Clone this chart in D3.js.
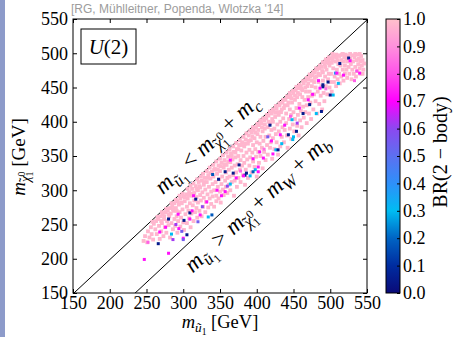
<!DOCTYPE html>
<html><head><meta charset="utf-8">
<script src="https://cdn.jsdelivr.net/npm/d3@7"></script>
<style>body{margin:0;background:#fff;} svg{display:block;}</style>
</head><body>
<svg id="c" width="453" height="337"></svg>
<script>
// ---------------- data ----------------
const xTicks = [150, 200, 250, 300, 350, 400, 450, 500, 550];
const yTicks = [150, 200, 250, 300, 350, 400, 450, 500, 550];
const cbTicks = [0, 0.1, 0.2, 0.3, 0.4, 0.5, 0.6, 0.7, 0.8, 0.9, 1.0];
const cbTickLabels = ["0.0","0.1","0.2","0.3","0.4","0.5","0.6","0.7","0.8","0.9","1.0"];
const cmapStops  = [0, 0.1, 0.2, 0.3, 0.4, 0.5, 0.6, 0.65, 0.7, 0.8, 0.9, 1.0];
const cmapColors = ["#0a0a78","#002ca0","#0064c4","#00bcf2","#2e90fa","#5c70f0","#8c48f0","#c424f8","#ff00ff","#ff52ea","#ff90dc","#ffc0cb"];
const mC = 1.3, mW = 80.4, mB = 4.2;   // GeV
const citation = "[RG, Mühlleitner, Popenda, Wlotzka '14]";
const pinkBR = 0.98;
const pinkPts = [
[246,226],[248,233],[251,224],[252,240],[254,231],[256,246],[257,236],[259,228],[260,251],
[262,243],[263,255],[264,236],[266,258],[267,248],[268,229],[269,262],[270,240],[271,252],[272,265],[273,233],[274,258],[275,246],[276,268],[277,238],[278,255],[279,271],[280,249],[281,262],[282,231],[282,274],
[283,266],[284,252],[285,277],[286,243],[287,270],[288,258],[288,281],[289,248],[290,274],[291,262],[292,284],[292,238],[293,255],[294,279],[295,268],[296,247],[296,288],[297,260],[298,281],[299,272],[300,253],[300,291],[301,242],[302,284],
[303,265],[304,294],[305,276],[305,252],[306,288],[307,270],[308,297],[308,259],[309,281],[310,246],[311,292],[311,266],[312,302],[313,278],[314,255],[315,296],[315,285],[316,268],[317,306],[318,274],[318,290],[319,260],[320,300],[320,282],
[321,312],[322,270],[323,293],[323,304],[324,285],[325,262],[325,314],[326,297],[327,276],[328,308],[328,289],[329,318],[330,268],[330,301],[331,283],[332,312],[333,294],[334,322],[334,275],[335,305],[336,288],[337,317],[338,298],[338,280],[339,327],[340,309],[340,291],
[341,320],[342,276],[342,300],[343,331],[344,312],[345,292],[345,284],[346,324],[347,305],[348,336],[348,288],[349,316],[350,298],[350,328],[351,282],[352,340],[352,309],[353,320],[354,301],[355,333],[355,293],[356,344],[357,314],[358,326],[358,305],[359,337],[360,296],[360,318],
[361,349],[362,330],[362,308],[363,320],[364,341],[364,300],[365,354],[366,312],[366,333],[367,345],[368,322],[369,292],[369,356],[370,336],[370,314],[371,348],[372,326],[373,360],[373,305],[374,338],[375,318],[375,350],[376,366],[377,330],[378,344],[378,312],[379,358],[380,336],[380,370],
[381,322],[382,350],[383,364],[383,340],[384,308],[385,374],[385,330],[386,355],[387,345],[388,368],[388,318],[389,380],[390,336],[390,359],[391,348],[392,373],[393,326],[393,384],[394,355],[395,342],[395,366],[396,388],[397,334],[397,376],[398,360],[399,349],[399,392],[400,370],[400,320],
[401,382],[402,356],[403,395],[403,340],[404,368],[405,378],[405,350],[406,398],[407,362],[408,386],[408,332],[409,372],[410,402],[410,356],[411,390],[412,344],[412,378],[413,405],[414,366],[415,392],[415,352],[416,409],[417,380],[418,398],[418,362],[419,370],[420,412],[420,388],
[421,346],[422,400],[422,376],[423,416],[424,360],[424,390],[425,407],[426,382],[427,419],[427,370],[428,396],[429,352],[430,410],[430,386],[431,424],[432,364],[432,400],[433,414],[434,378],[435,428],[435,392],[436,405],[437,370],[437,420],[438,388],[439,432],[440,398],[440,412],
[441,380],[442,424],[442,362],[443,436],[444,404],[445,390],[445,418],[446,438],[447,375],[447,410],[448,428],[449,396],[450,442],[450,414],[451,386],[452,432],[452,404],[453,446],[454,420],[455,394],[455,436],[456,410],[457,449],[457,380],[458,426],[459,440],[459,402],[460,416],[460,452],
[461,392],[462,436],[462,446],[463,422],[464,456],[464,406],[465,432],[466,414],[466,460],[467,444],[468,398],[468,424],[469,452],[470,436],[470,462],[471,412],[472,444],[473,466],[473,428],[474,404],[475,452],[475,438],[476,468],[477,418],[478,458],[478,440],[479,472],[480,430],[480,450],
[481,466],[482,412],[482,476],[483,444],[484,458],[485,426],[485,478],[486,468],[487,438],[488,480],[488,452],[489,418],[490,472],[490,460],[491,442],[492,484],[492,430],[493,466],[494,452],[495,486],[495,476],[496,440],[497,462],[497,490],[498,470],[499,450],[499,482],[500,492],[500,458],
[501,470],[502,486],[502,444],[503,494],[504,478],[505,458],[505,496],[506,466],[507,488],[508,452],[508,498],[509,476],[510,462],[510,490],[511,484],[512,470],[513,497],[513,456],[514,482],[515,490],[515,466],[516,498],[517,476],[518,460],[518,488],[519,494],[520,470],[520,482],
[521,498],[522,476],[523,488],[523,464],[524,496],[525,480],[526,470],[527,492],[528,484],[529,462],[530,497],[530,476],[531,488],[532,470],[533,494],[534,480],[535,466],[536,490],[537,498],[537,474],[538,484],[539,492],[540,478],[541,488],[541,470],[542,496],[543,482],[544,490],[545,476],[544,470],[546,485],
[258,254],[265,261],[271,268],[277,273],[284,281],[290,286],[295,292],[299,295],[306,302],[310,307],[314,310],[319,316],[324,320],[327,324],[332,328],[336,333],[341,337],[345,342],[350,346],[354,351],[359,355],[363,360],[368,364],[372,369],[377,373],[382,378],[386,383],[391,387],[395,392],[401,397],[405,402],[409,405],[414,410],[418,415],[422,418],[426,423],[431,427],[436,432],[441,437],[445,442],[449,445],[454,451],[458,454],[463,459],[468,464],[472,469],[477,473],[481,478],[486,482],[490,487],[494,491],[498,494],[503,499],
[270,255],[274,262],[280,265],[286,272],[291,270],[297,282],[302,290],[307,293],[313,295],[318,302],[322,306],[328,312],[333,318],[337,325],[342,330],[347,330],[351,335],[356,338],[361,342],[366,350],[371,355],[375,360],[379,366],[384,368],[389,372],[394,378],[398,384],[402,388],[407,392],[411,396],[416,400],[421,404],[425,413],[429,414],[434,418],[438,424],[443,428],[447,434],[452,438],[456,442],[461,448],[466,450],[470,456],[475,460],[479,464],[484,470],[489,474],[493,480],[498,486],[503,490],[508,494],[512,496],[517,499],[522,492],[527,499],[534,499],[540,499]
];
// [m_stop, m_chi, BR(2-body)]
const colPts = [
[247,199,0.72],[252,224,0.82],[266,222,0.05],[268,239,0.72],[280,208,0.72],[284,236,0.3],[286,228,0.62],[300,230,0.72],[305,235,0.05],[300,228,0.55],[294,244,0.72],[276,246,0.72],[280,258,0.05],[290,250,0.62],[301,256,0.05],[309,258,0.72],[320,254,0.55],[334,261,0.3],[339,264,0.18],[323,264,0.72],[309,267,0.05],[293,265,0.72],[312,270,0.72],[326,276,0.6],[317,287,0.05],[314,292,0.72],[332,283,0.72],[298,240,0.55],[346,300,0.72],[352,292,0.72],[348,316,0.05],[364,309,0.3],[357,298,0.72],[360,306,0.6],[368,325,0.05],[372,318,0.72],[378,328,0.82],[386,325,0.05],[384,322,0.05],[357,327,0.05],[398,330,0.3],[402,327,0.72],[364,344,0.72],[376,337,0.05],[340,323,0.18],[382,321,0.72],[391,321,0.3],[395,327,0.18],[402,334,0.72],[409,347,0.72],[395,346,0.72],[404,356,0.72],[410,360,0.85],[422,353,0.72],[426,359,0.3],[429,359,0.05],[434,368,0.3],[420,372,0.72],[415,378,0.55],[432,381,0.72],[443,381,0.05],[449,374,0.3],[450,378,0.3],[454,386,0.05],[418,395,0.05],[438,395,0.72],[455,398,0.62],[448,403,0.3],[446,408,0.82],[463,412,0.05],[481,412,0.3],[488,415,0.05],[458,420,0.72],[472,425,0.05],[470,432,0.72],[476,440,0.72],[504,439,0.3],[500,439,0.05],[490,451,0.05],[486,449,0.72],[490,454,0.05],[497,458,0.05],[511,456,0.3],[484,460,0.72],[494,448,0.85],[518,468,0.72],[507,471,0.4],[509,471,0.72],[540,471,0.72],[536,474,0.8],[533,460,0.82],[513,485,0.05],[525,493,0.05],[527,489,0.72]
];

// ---------------- layout ----------------
const svg = d3.select("#c");
const P = {l:73, r:367, t:19, b:293};
const x = d3.scaleLinear().domain([150,550]).range([P.l,P.r]);
const y = d3.scaleLinear().domain([150,550]).range([P.b,P.t]);
const color = d3.scaleLinear().domain(cmapStops).range(cmapColors).clamp(true);
const serif = "'Liberation Serif','Times New Roman',serif";

// left slide strip
svg.append("rect").attr("x",0).attr("y",0).attr("width",5).attr("height",337).attr("fill","#8d9bca");

// citation
svg.append("text").attr("x",71).attr("y",13).attr("font-family","'Liberation Sans',Arial,sans-serif")
  .attr("font-size",12).attr("fill","#9c9c9c").text(citation);

// clip
svg.append("clipPath").attr("id","clip").append("rect")
  .attr("x",P.l).attr("y",P.t).attr("width",P.r-P.l).attr("height",P.b-P.t);
const plot = svg.append("g").attr("clip-path","url(#clip)");

// kinematic lines
const line = d3.line().x(d=>x(d[0])).y(d=>y(d[1]));
const lineC  = [[100,100-mC],[600,600-mC]];
const lineWb = [[100,100-mW-mB],[650,650-mW-mB]];
plot.append("path").attr("d",line(lineC)).attr("stroke","#000").attr("stroke-width",1).attr("fill","none");
plot.append("path").attr("d",line(lineWb)).attr("stroke","#000").attr("stroke-width",1).attr("fill","none");

// points
const ms = 3.8;
plot.append("g").selectAll("rect").data(pinkPts).join("rect")
  .attr("x",d=>x(d[0])-ms/2).attr("y",d=>y(d[1])-ms/2).attr("width",ms).attr("height",ms)
  .attr("fill",color(pinkBR));
const ms2 = 3;
plot.append("g").selectAll("rect").data(colPts).join("rect")
  .attr("x",d=>x(d[0])-ms2/2).attr("y",d=>y(d[1])-ms2/2).attr("width",ms2).attr("height",ms2)
  .attr("fill",d=>color(d[2]));

// frame
svg.append("rect").attr("x",P.l).attr("y",P.t).attr("width",P.r-P.l).attr("height",P.b-P.t)
  .attr("fill","none").attr("stroke","#000").attr("stroke-width",1);

// axes
function styleAxis(g){
  g.select(".domain").remove();
  g.selectAll("text").attr("font-family",serif).attr("font-size",18).attr("fill","#000");
  g.selectAll("line").attr("stroke","#000");
}
svg.append("g").attr("transform",`translate(0,${P.b})`)
  .call(d3.axisBottom(x).tickValues(xTicks).tickSizeInner(-4).tickSizeOuter(0).tickPadding(3).tickFormat(d3.format("d")))
  .call(styleAxis);
svg.append("g").attr("transform",`translate(0,${P.t})`)
  .call(d3.axisTop(x).tickValues(xTicks).tickSizeInner(-4).tickSizeOuter(0).tickFormat(""))
  .call(styleAxis);
svg.append("g").attr("transform",`translate(${P.l},0)`)
  .call(d3.axisLeft(y).tickValues(yTicks).tickSizeInner(-4).tickSizeOuter(0).tickPadding(5).tickFormat(d3.format("d")))
  .call(styleAxis);
svg.append("g").attr("transform",`translate(${P.r},0)`)
  .call(d3.axisRight(y).tickValues(yTicks).tickSizeInner(-4).tickSizeOuter(0).tickFormat(""))
  .call(styleAxis);

// math text helper: parts = [text, level, italic, dxEm]
// level 0 base, 1 subscript, 2 sub-subscript, 3 sup on subscript, 4 accent on subscript
function math(parent, parts, size){
  const t = parent.append("text").attr("font-family",serif).attr("font-size",size).attr("fill","#000");
  const L = {0:{s:1,sh:0},1:{s:0.72,sh:0.24},2:{s:0.52,sh:0.42},3:{s:0.52,sh:-0.02},4:{s:0.72,sh:0.22}};
  let cur = 0;
  parts.forEach(p=>{
    const [txt,lvl,it,dxEm] = p;
    const sh = L[lvl].sh*size;
    const ts = t.append("tspan").text(txt).attr("font-size",L[lvl].s*size).attr("dy",sh-cur);
    if(it) ts.attr("font-style","italic");
    if(dxEm) ts.attr("dx",dxEm*size);
    cur = sh;
  });
  return t;
}
const mChi = [["m",0,true],["χ",1,true],["˜",4,false,-0.33],["0",3,false,0.07],["1",2,false,-0.26]];
const mStop = [["m",0,true],["ũ",1,true],["1",2,false]];

// axis labels
math(svg, [...mStop,[" [GeV]",0,false]], 18.5)
  .attr("x",220).attr("y",327.5).attr("text-anchor","middle");
math(svg, [...mChi,[" [GeV]",0,false]], 19)
  .attr("text-anchor","middle").attr("transform","translate(25,157) rotate(-90)");

// line annotations
const ang = Math.atan2(y(150)-y(250), x(250)-x(150));
const deg = ang*180/Math.PI;
const nrm = [-Math.sin(ang), -Math.cos(ang)]; // up-left normal
function annot(parts, mAt, off, dist, size){
  const px = x(mAt), py = y(mAt-off);
  const cx = px + dist*nrm[0], cy = py + dist*nrm[1];
  math(svg, parts, size).attr("text-anchor","middle")
    .attr("transform",`translate(${cx},${cy}) rotate(${-deg})`);
}
annot([...mStop,[" < ",0,false],...mChi,[" + ",0,false],["m",0,true],["c",1,true]], 349, mC, 11, 23);
annot([...mStop,[" > ",0,false],...mChi,[" + ",0,false],["m",0,true],["W",1,true],[" + ",0,false],["m",0,true],["b",1,true]], 384, mW+mB, -25, 23);

// U(2) box
svg.append("rect").attr("x",81).attr("y",29).attr("width",55).attr("height",35)
  .attr("fill","#fff").attr("stroke","#000").attr("stroke-width",1);
math(svg, [["U",0,true],["(2)",0,false]], 21).attr("x",108.5).attr("y",54).attr("text-anchor","middle");

// colorbar
const CB = {l:386, r:400, t:19, b:293};
const yc = d3.scaleLinear().domain([0,1]).range([CB.b,CB.t]);
const grad = svg.append("defs").append("linearGradient").attr("id","cbg")
  .attr("x1",0).attr("y1",1).attr("x2",0).attr("y2",0);
grad.selectAll("stop").data(cmapStops).join("stop")
  .attr("offset",d=>d).attr("stop-color",d=>color(d));
svg.append("rect").attr("x",CB.l).attr("y",CB.t).attr("width",CB.r-CB.l).attr("height",CB.b-CB.t)
  .attr("fill","url(#cbg)").attr("stroke","#000").attr("stroke-width",1);
svg.append("g").attr("transform",`translate(${CB.r},0)`)
  .call(d3.axisRight(yc).tickValues(cbTicks).tickSizeInner(-3).tickSizeOuter(0).tickPadding(3)
    .tickFormat((d,i)=>cbTickLabels[i]))
  .call(styleAxis);
svg.append("text").attr("font-family",serif).attr("font-size",20).attr("text-anchor","middle")
  .attr("transform","translate(447,152) rotate(-90)").text("BR(2 − body)");
</script>
</body></html>
